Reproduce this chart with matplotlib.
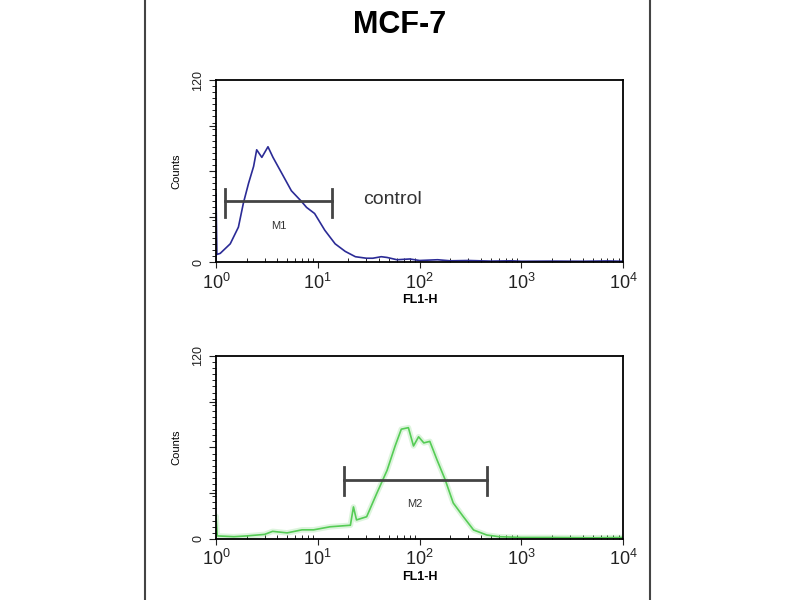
import matplotlib
matplotlib.use("Agg")
import matplotlib.pyplot as plt
from matplotlib.lines import Line2D
from matplotlib.ticker import MultipleLocator

plt.rcParams['font.family'] = ['Liberation Sans', 'DejaVu Sans']

# control histogram (FL1-H, counts)
ctrl_x = [1.0, 1.0, 1.02, 1.10, 1.38, 1.66, 1.86, 2.09, 2.34, 2.51, 2.82, 3.24, 3.63,
          4.47, 5.5, 6.9, 7.76, 9.3, 11.7, 14.8, 18.6, 23.4, 30.0, 34.7, 42.0,
          48.0, 60.0, 80.0, 100.0, 150.0, 200.0, 300.0, 500.0, 800.0, 1000.0,
          2000.0, 4000.0, 7000.0, 10000.0]
ctrl_y = [0, 45, 5, 5.7, 12, 23, 39, 52, 63, 74, 69, 76, 69,
          58, 47, 40, 36, 32, 21, 12, 7, 3.5, 2.5, 2.5, 3.5,
          3, 1.5, 2, 1, 1.5, 0.8, 1, 0.6, 0.8, 0.5,
          0.6, 0.5, 0.7, 0.5]

# stained histogram
stain_x = [1.0, 1.0, 1.03, 1.5, 2.0, 3.0, 3.6, 5.0, 7.0, 9.1, 13.2, 20.9, 22.4,
           24.0, 30.2, 38.0, 47.9, 57.5, 66.1, 77.6, 87.1, 97.7, 110.0, 126.0,
           148.0, 178.0, 214.0, 269.0, 339.0, 457.0, 600.0, 1000.0, 2000.0,
           5000.0, 10000.0]
stain_y = [0, 15, 2, 1.5, 2, 3, 5, 4, 6, 6, 8, 9, 21,
           12.5, 14.6, 30, 45, 61, 72, 73, 61, 67, 63, 64,
           52, 39, 23.6, 14.6, 5.9, 2.6, 1.5, 1, 1,
           0.8, 1]

m1 = (1.23, 13.7, 40)
m2 = (18.0, 457.0, 39)

fig = plt.figure(figsize=(8, 6), dpi=100)
fig.text(0.5, 0.958, "MCF-7", ha='center', va='center', fontsize=22, fontweight='bold')

for xf in (145 / 800, 650 / 800):
    fig.add_artist(Line2D([xf, xf], [0, 1], color='#444444', lw=1.5))

ax1 = fig.add_axes([0.27, 0.5633, 0.509, 0.3033])
ax2 = fig.add_axes([0.27, 0.1017, 0.509, 0.305])

panels = [
    (ax1, ctrl_x, ctrl_y, '#2b2b96', m1, "M1"),
    (ax2, stain_x, stain_y, '#55cc55', m2, "M2"),
]

for ax, xs, ys, col, mk, mlabel in panels:
    if mlabel == "M2":
        ax.plot(xs, ys, color=col, lw=4, alpha=0.2)
    ax.plot(xs, ys, color=col, lw=1.2)
    ax.set_xscale('log')
    ax.set_xlim(1, 10000)
    ax.set_ylim(0, 120)
    ax.set_yticks([0, 30, 60, 90, 120], labels=['0', '', '', '', '120'])
    ax.yaxis.set_minor_locator(MultipleLocator(4))
    ax.tick_params(axis='y', which='major', length=5, labelsize=9,
                   labelrotation=90, colors='#222222')
    ax.tick_params(axis='y', which='minor', length=3)
    ax.tick_params(axis='x', which='major', direction='out', length=4,
                   labelsize=13, colors='#222222')
    ax.tick_params(axis='x', which='minor', direction='in', length=3)
    for lab in ax.get_yticklabels():
        lab.set_va('center')
    for sp in ax.spines.values():
        sp.set_linewidth(1.3)
    ax.set_xlabel("FL1-H", fontsize=9, fontweight='bold', labelpad=1)
    ax.set_ylabel("Counts", fontsize=8, labelpad=8)

    lo, hi, yy = mk
    ax.plot([lo, hi], [yy, yy], color='#444444', lw=2)
    ax.plot([lo, lo], [yy - 10, yy + 8], color='#444444', lw=2)
    ax.plot([hi, hi], [yy - 10, yy + 8], color='#444444', lw=2)
    ax.text((lo * hi) ** 0.5, yy - 16, mlabel, ha='center', va='center',
            fontsize=8, color='#333333')

ax1.text(28, 41, "control", ha='left', va='center', fontsize=14, color='#333333')

fig.savefig("out.png", dpi=100, facecolor='white')
